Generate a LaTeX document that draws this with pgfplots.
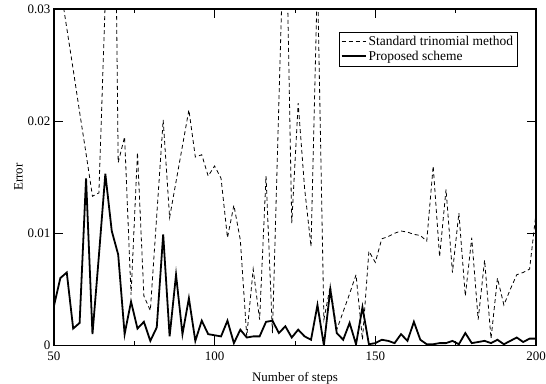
\documentclass[border=0pt]{standalone}
\usepackage{fontspec}
\setmainfont{Liberation Serif}
\usepackage{pgfplots}
\pgfplotsset{compat=1.18}
\pgfplotstableread{
x std prop
50 0.040 0.0035
52 0.032 0.0060
54 0.0283 0.0065
56 0.0246 0.0015
58 0.0208 0.0020
60 0.0171 0.0149
62 0.0133 0.0010
64 0.0136 0.0080
66 0.031 0.0153
68 0.070 0.0102
70 0.0163 0.0081
72 0.0186 0.0010
74 0.0045 0.0039
76 0.0172 0.0015
78 0.0044 0.0021
80 0.0031 0.0004
82 0.0116 0.0016
84 0.0201 0.0099
86 0.0114 0.0008
88 0.0146 0.0063
90 0.0178 0.0010
92 0.0210 0.0042
94 0.0168 0.0004
96 0.0170 0.0022
98 0.0151 0.0010
100 0.0160 0.0009
102 0.0149 0.0008
104 0.0096 0.0022
106 0.0125 0.0002
108 0.0094 0.0014
110 0.0008 0.0007
112 0.0068 0.0008
114 0.0023 0.0008
116 0.0151 0.0021
118 0.0011 0.0022
120 0.0217 0.0011
122 0.042 0.0017
124 0.0109 0.0007
126 0.0216 0.0014
128 0.0140 0.0008
130 0.0088 0.0005
132 0.033 0.0036
134 0.0023 0.0000
136 0.0053 0.0050
138 0.0014 0.0011
140 0.0030 0.0005
142 0.0046 0.0020
144 0.0063 0.0001
146 0.0005 0.0034
148 0.0084 0.0001
150 0.0074 0.0002
152 0.0095 0.0005
154 0.0097 0.0004
156 0.0100 0.0002
158 0.0102 0.0010
160 0.0101 0.0004
162 0.0099 0.0021
164 0.0098 0.0005
166 0.0093 0.0001
168 0.0160 0.0001
170 0.0079 0.0002
172 0.0139 0.0002
174 0.0065 0.0004
176 0.0118 0.0001
178 0.0044 0.0011
180 0.0096 0.0002
182 0.0023 0.0003
184 0.0076 0.0004
186 0.0006 0.0002
188 0.0060 0.0005
190 0.0036 0.0001
192 0.0050 0.0004
194 0.0063 0.0007
196 0.0065 0.0003
198 0.0068 0.0006
200 0.0118 0.0006
}\data
\begin{document}
\begin{tikzpicture}
\begin{axis}[
  name=main,
  scale only axis,
  width=483pt, height=337pt,
  xmin=50, xmax=200, ymin=0, ymax=0.03,
  xtick={50,100,150,200},
  minor xtick={75,125,175},
  ytick={0,0.01,0.02,0.03},
  yticklabels={0,0.01,0.02,0.03},
  scaled y ticks=false,
  tick align=inside,
  major tick length=9pt,
  minor tick length=4pt,
  every tick/.style={black, line width=0.8pt},
  axis line style={line width=1.2pt},
  /pgf/number format/assume math mode=true,
  tick label style={font=\fontsize{13}{15}\selectfont},
  xticklabel style={yshift=-3pt},
  label style={font=\fontsize{13}{15}\selectfont},
  xlabel={Number of steps},
  ylabel={Error},
  xlabel style={yshift=-5pt},
  ylabel style={yshift=-2pt},
  legend style={at={(0.961,0.932)}, anchor=north east, draw=black,
     font=\fontsize{13.5}{15}\selectfont, inner sep=2pt, row sep=0pt},
  legend cell align=left,
  legend image code/.code={\draw[#1] (0pt,0pt) -- (24pt,0pt);},
]
\addplot[black, line width=0.8pt, dash pattern=on 4pt off 3pt] table[x=x, y=std] {\data};
\addlegendentry{Standard trinomial method}
\addplot[black, line width=1.8pt] table[x=x, y=prop] {\data};
\addlegendentry{Proposed scheme}
\end{axis}
\pgfresetboundingbox
\path[use as bounding box] ([xshift=-54pt,yshift=-38pt]main.south west) rectangle ([xshift=10pt,yshift=9pt]main.north east);
\end{tikzpicture}
\end{document}
